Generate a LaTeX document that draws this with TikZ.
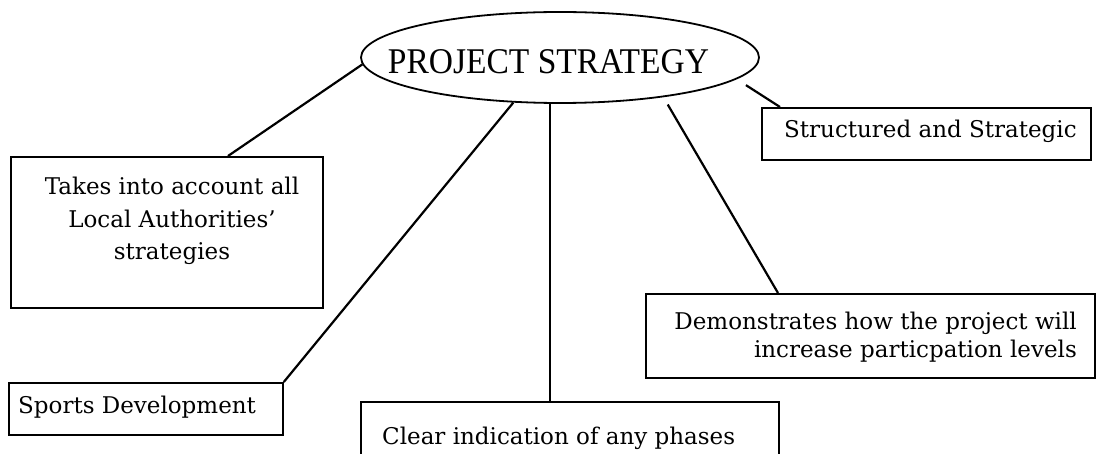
\documentclass[tikz,border=0pt]{standalone}
\usepackage{fontspec}
\setmainfont{DejaVu Serif}
\newfontfamily\titlefont{Liberation Serif}
\usetikzlibrary{shapes.geometric,calc}
\begin{document}
\begin{tikzpicture}[x=1pt,y=-1pt,
  box/.style={draw, line width=1.8pt, rectangle, inner sep=0pt, anchor=north west},
  conn/.style={line width=2.2pt},
  txt/.style={inner sep=0pt, font=\fontsize{23}{32.5}\selectfont}]
\useasboundingbox (0,0) rectangle (1096,454);
\clip (0,0) rectangle (1096,454);
% central ellipse
\node[draw, ellipse, line width=1.8pt, minimum width=398pt, minimum height=91pt, inner sep=0pt] (ps) at (560,57.5) {};
\node[inner sep=0pt, anchor=base, font=\titlefont\fontsize{33.5}{40}\selectfont] (pst) at (548.5,74) {\scalebox{1}[1.08]{PROJECT STRATEGY}};
% boxes
\node[box, minimum width=312pt, minimum height=151pt] (t) at (10,156) {};
\node[txt, align=center, anchor=base] (tt) at (172,260) {Takes into account all\\Local Authorities’\\strategies};
\node[box, minimum width=274pt, minimum height=52pt] (sd) at (8,382) {};
\node[txt, anchor=base west] (sdt) at (18,414) {Sports Development};
\node[box, minimum width=418pt, minimum height=70pt] (c) at (360,401) {};
\node[txt, anchor=base west] (ct) at (382,445) {Clear indication of any phases};
\node[box, minimum width=329pt, minimum height=52pt] (s) at (761,107) {};
\node[txt, anchor=base west] (st) at (784,138) {Structured and Strategic};
\node[box, minimum width=449pt, minimum height=84pt] (d) at (645,293) {};
\node[txt, align=right, anchor=base east, font=\fontsize{23}{28}\selectfont] (dt) at (1077,358) {Demonstrates how the project will\\increase particpation levels};
% connectors
\coordinate (t1) at ([xshift=218pt]t.north west);
\draw[conn] (ps.182) -- (t1);
\draw[conn] (ps.224.7) -- (sd.north east);
\draw[conn] (ps.-102) -- (ps.-102 |- c.north);
\coordinate (d1) at ([xshift=133pt]d.north west);
\draw[conn, shorten <=8.5pt] (ps.-21.6) -- (d1);
\coordinate (s1) at ([xshift=19pt]s.north west);
\draw[conn, shorten <=11pt] (ps.-7.4) -- (s1);
\end{tikzpicture}
\end{document}
